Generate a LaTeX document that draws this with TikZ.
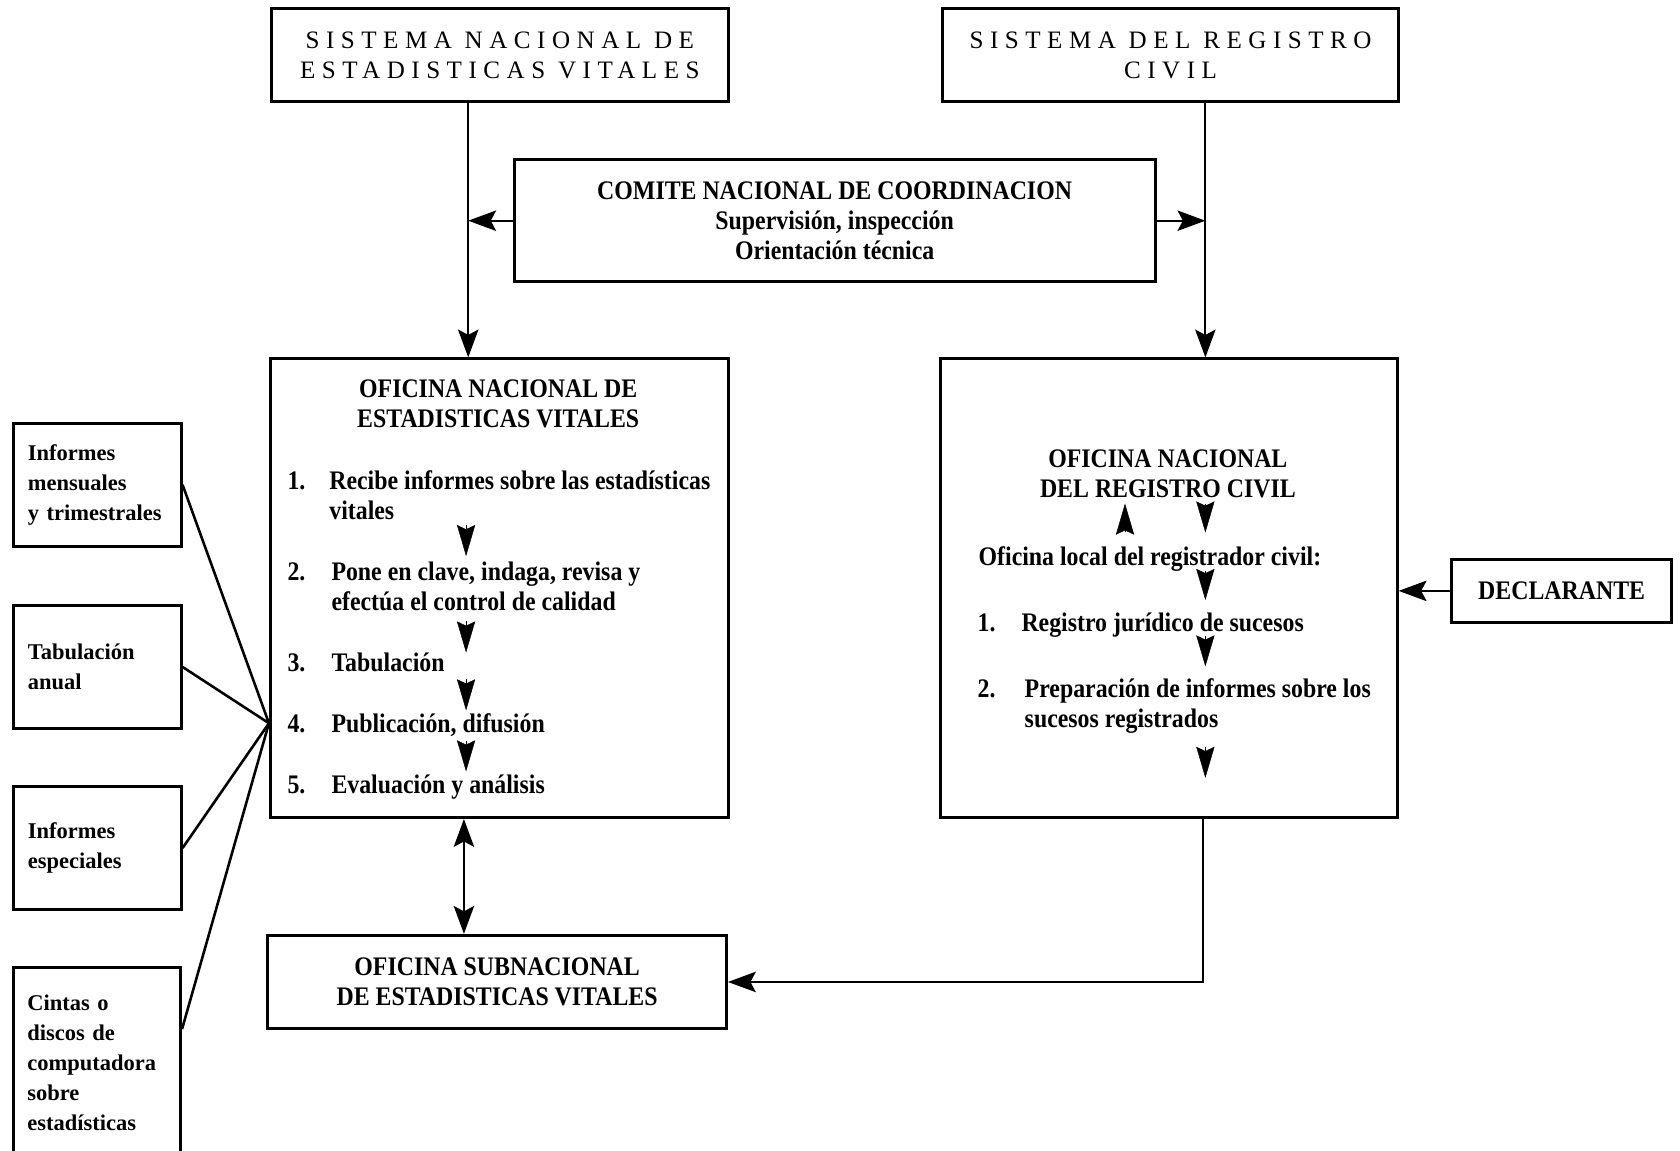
\documentclass[tikz,border=0pt]{standalone}
\usepackage{fontspec}
\setmainfont{Liberation Serif}
\newfontfamily\condfont[FakeStretch=0.89]{Liberation Serif}
\newfontfamily\spacedfont[LetterSpace=26]{Liberation Serif}
\usetikzlibrary{arrows.meta,calc,positioning}

\tikzset{
    box/.style={draw,line width=1.4pt,inner sep=0pt,align=center},
    title/.style={box,font=\spacedfont\fontsize{11.7}{14}\selectfont},
    office/.style={box,font=\condfont\bfseries\fontsize{12.5}{14}\selectfont},
    side/.style={draw,line width=1.4pt,inner xsep=6.5pt,inner ysep=0pt,
        minimum width=78pt,text width=65pt,align=left,
        font=\bfseries\fontsize{10.5}{14}\selectfont},
    item/.style={inner sep=0pt,anchor=base west,align=left,
        font=\condfont\bfseries\fontsize{12.5}{14}\selectfont},
    conn/.style={line width=1pt,-{Stealth[length=13pt,width=9.5pt,inset=2.5pt]}},
    head/.style={line width=0.2pt,-{Stealth[length=14.5pt,width=8.5pt,inset=2pt]}},
    link/.style={line width=1.2pt}
}

\begin{document}
\begin{tikzpicture}[x=0.5pt,y=-0.5pt]
    \fill[white] (0,0) rectangle (1568,1074);
    \useasboundingbox (0,0) rectangle (1568,1074);

    % Top systems
    \node[title,minimum width=213.5pt,minimum height=43.5pt] (snev) at (466.5,51.5)
        {SISTEMA NACIONAL DE\\ESTADISTICAS VITALES};
    \node[title,minimum width=212.5pt,minimum height=43.5pt] (src) at (1092.5,51.5)
        {SISTEMA DEL REGISTRO\\CIVIL};

    % Committee
    \node[office,minimum width=299pt,minimum height=57pt] (comite) at (779,206)
        {COMITE NACIONAL DE COORDINACION\\Supervisión, inspección\\Orientación técnica};

    % National offices
    \node[box,minimum width=214pt,minimum height=214pt] (onev) at (466,549) {};
    \node[box,minimum width=213pt,minimum height=214pt] (onrc) at (1091,549) {};

    \node[office,draw=none] (onevtitle) at (465,377) {OFICINA NACIONAL DE\\ESTADISTICAS VITALES};
    \node[item] (n1) at (268,457) {1.};
    \node[item] (t1) at (307,485) {Recibe informes sobre las estadísticas\\vitales};
    \node[item] (n2) at (268,542) {2.};
    \node[item] (t2) at (309,570) {Pone en clave, indaga, revisa y\\efectúa el control de calidad};
    \node[item] (n3) at (268,627) {3.};
    \node[item] (t3) at (309,627) {Tabulación};
    \node[item] (n4) at (268,684) {4.};
    \node[item] (t4) at (309,684) {Publicación, difusión};
    \node[item] (n5) at (268,741) {5.};
    \node[item] (t5) at (309,741) {Evaluación y análisis};
    \foreach \a/\b in {490/519,580/609,634/663,692/720}
        \draw[head] (435,\a) -- (435,\b);

    \node[office,draw=none] (onrctitle) at (1090,442) {OFICINA NACIONAL\\DEL REGISTRO CIVIL};
    \node[item] (local) at (913,528) {Oficina local del registrador civil:};
    \node[item] (r1) at (912,589) {1.};
    \node[item] (s1) at (953,589) {Registro jurídico de sucesos};
    \node[item] (r2) at (912,651) {2.};
    \node[item] (s2) at (956,679) {Preparación de informes sobre los\\sucesos registrados};
    \draw[head] (1050,497) -- (1050,470);
    \foreach \a/\b in {470/497,533/560,594/622,697/726}
        \draw[head] (1125,\a) -- (1125,\b);

    % Declarant and subnational office
    \node[office,minimum width=102.5pt,minimum height=29.5pt] (decl) at (1457.5,551.5) {DECLARANTE};
    \node[office,minimum width=214pt,minimum height=43.5pt] (subnat) at (464,916.5)
        {OFICINA SUBNACIONAL\\DE ESTADISTICAS VITALES};

    % Products
    \node[side,minimum height=57.5pt] (mens) at (91,452.5) {Informes\\mensuales\\y trimestrales};
    \node[side,minimum height=57.5pt] (anual) at (91,622.5) {Tabulación\\anual};
    \node[side,minimum height=57.5pt] (espec) at (91,791.5) {Informes\\especiales};
    \node[side,minimum height=88.5pt] (cintas) at (90.5,991.5)
        {Cintas o\\discos de\\computadora\\sobre\\estadísticas};

    % Connectors
    \coordinate (lv) at (437,0);
    \coordinate (rv) at (1125,0);
    \coordinate (dv) at (433,0);
    \coordinate (bv) at (1123,0);
    \coordinate (hub) at (251,675);

    \draw[conn] (snev.south -| lv) -- (onev.north -| lv);
    \draw[conn] (comite.west) -- (comite.west -| lv);
    \draw[conn] (src.south -| rv) -- (onrc.north -| rv);
    \draw[conn] (comite.east) -- (comite.east -| rv);
    \draw[conn] (decl.west) -- (onrc.east |- decl.west);
    \draw[conn,{Stealth[length=13pt,width=9.5pt,inset=2.5pt]}-{Stealth[length=13pt,width=9.5pt,inset=2.5pt]}]
        (onev.south -| dv) -- (subnat.north -| dv);
    \draw[conn] (onrc.south -| bv) |- (subnat.east);

    \draw[link] (mens.east) -- (hub);
    \draw[link] (anual.east) -- (hub);
    \draw[link] (espec.east) -- (hub);
    \draw[link] ([yshift=15.5pt]cintas.east) -- (hub);
\end{tikzpicture}
\end{document}
